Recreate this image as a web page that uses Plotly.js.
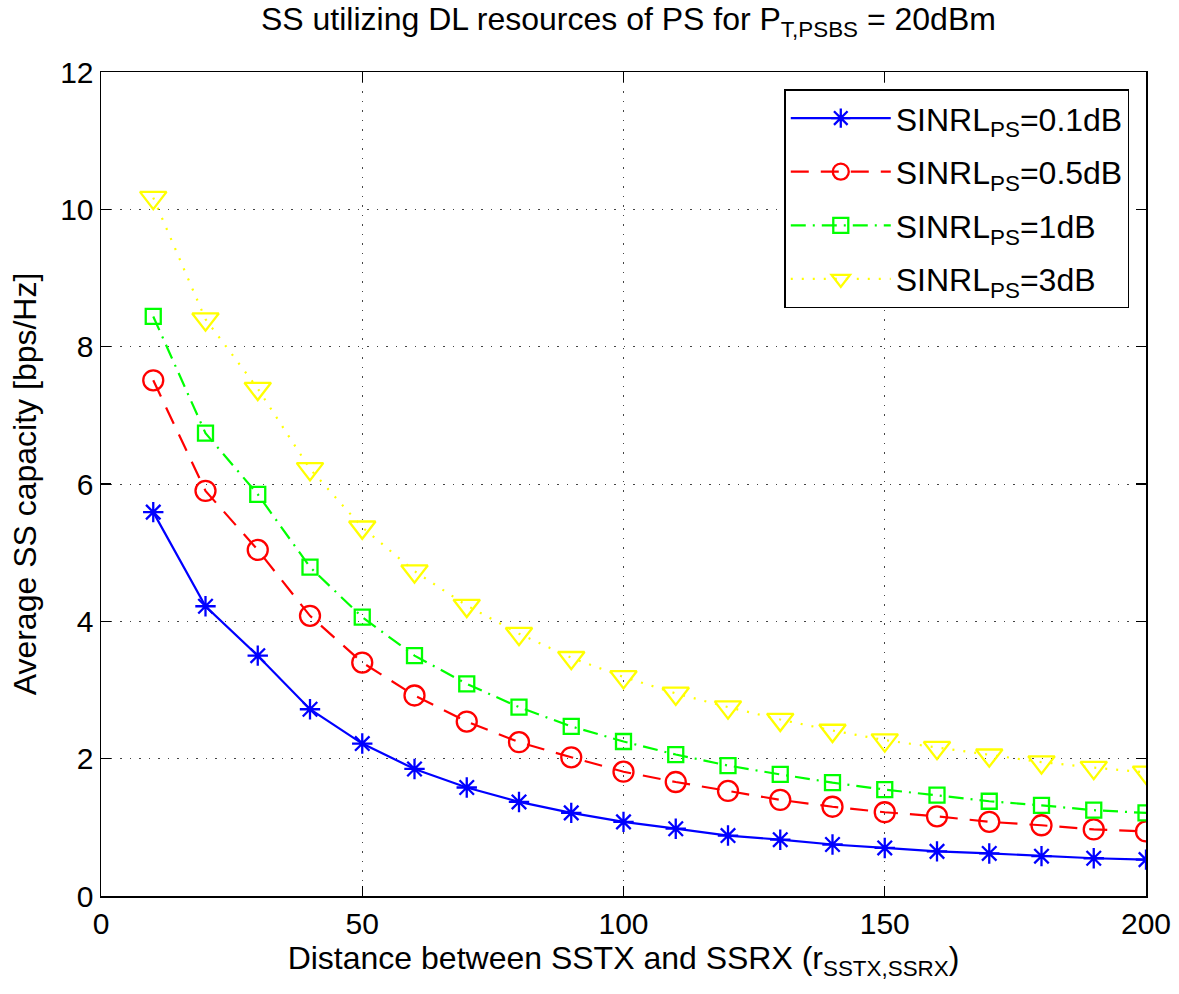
<!DOCTYPE html>
<html>
<head>
<meta charset="utf-8">
<script src="https://cdn.plot.ly/plotly-3.0.1.min.js"></script>
<style>html,body{margin:0;padding:0;background:#fff;}#chart{width:1179px;height:994px;}</style>
</head>
<body>
<div id="chart"></div>
<script>
const distance = [10,20,30,40,50,60,70,80,90,100,110,120,130,140,150,160,170,180,190,200];
const sinrl01 = [5.59,4.22,3.50,2.72,2.22,1.85,1.58,1.37,1.21,1.08,0.98,0.88,0.82,0.75,0.70,0.65,0.62,0.58,0.55,0.53];
const sinrl05 = [7.51,5.90,5.04,4.08,3.40,2.92,2.54,2.24,2.02,1.81,1.66,1.53,1.40,1.30,1.22,1.16,1.08,1.03,0.97,0.94];
const sinrl1  = [8.44,6.74,5.85,4.79,4.06,3.50,3.09,2.75,2.47,2.25,2.06,1.90,1.77,1.65,1.55,1.47,1.38,1.32,1.25,1.21];
const sinrl3  = [10.17,8.40,7.39,6.22,5.37,4.73,4.23,3.82,3.47,3.19,2.95,2.75,2.57,2.41,2.27,2.16,2.05,1.95,1.87,1.80];
const seriesNames = ['SINRL<sub>PS</sub>=0.1dB','SINRL<sub>PS</sub>=0.5dB','SINRL<sub>PS</sub>=1dB','SINRL<sub>PS</sub>=3dB'];
const xTicks = [0,50,100,150,200];
const yTicks = [0,2,4,6,8,10,12];

const font = 'Liberation Sans, Arial, sans-serif';
const traces = [
  {x: distance, y: sinrl01, name: seriesNames[0], legendgroup: 'g1', mode: 'lines+markers',
   line: {color: '#0000ff', width: 2.2, dash: 'solid'},
   marker: {symbol: 'asterisk-open', size: 17, color: '#0000ff', line: {color: '#0000ff', width: 2.3}}},
  {x: distance, y: sinrl05, name: seriesNames[1], legendgroup: 'g2', mode: 'lines+markers',
   line: {color: '#ff0000', width: 2.2, dash: '18px,12px'},
   marker: {symbol: 'circle-open', size: 20, color: '#ff0000', line: {color: '#ff0000', width: 2.3}}},
  {x: distance, y: sinrl1, name: seriesNames[2], legendgroup: 'g3', mode: 'lines+markers',
   line: {color: '#00ff00', width: 2.2, dash: '15px,7px,2px,7px'},
   marker: {symbol: 'square-open', size: 15, color: '#00ff00', line: {color: '#00ff00', width: 2.3}}},
  {x: distance, y: sinrl3, name: seriesNames[3], legendgroup: 'g4', mode: 'lines+markers',
   line: {color: '#ffff00', width: 2.2, dash: '2px,9px'},
   marker: {symbol: 'triangle-down-open', size: 23, color: '#ffff00', line: {color: '#ffff00', width: 2.3}}}
];

const axisCommon = {
  showline: true, linecolor: '#000', linewidth: 1.5, mirror: 'ticks',
  ticks: 'inside', ticklen: 10, tickwidth: 1.2, tickcolor: '#000',
  showgrid: true, gridcolor: '#444', gridwidth: 1, griddash: '1.5px,8px',
  zeroline: false, tickfont: {family: font, size: 30, color: '#000'}
};

const layout = {
  width: 1179, height: 994,
  margin: {l: 101, r: 33, t: 72, b: 98},
  paper_bgcolor: '#fff', plot_bgcolor: '#fff',
  title: {text: 'SS utilizing DL resources of PS for P<sub>T,PSBS</sub> = 20dBm',
          font: {family: font, size: 32, color: '#000'}, x: 0.533, xanchor: 'center', y: 0.992, yanchor: 'top'},
  xaxis: Object.assign({}, axisCommon, {range: [0, 200], tickvals: xTicks, ticktext: xTicks.map(String),
    title: {text: 'Distance between SSTX and SSRX (r<sub>SSTX,SSRX</sub>)', font: {family: font, size: 32, color: '#000'}, standoff: 8}}),
  yaxis: Object.assign({}, axisCommon, {range: [0, 12], tickvals: yTicks, ticktext: yTicks.map(String),
    title: {text: 'Average SS capacity [bps/Hz]', font: {family: font, size: 32, color: '#000'}, standoff: 14}}),
  legend: {x: 0.984, xanchor: 'right', y: 0.979, yanchor: 'top', bgcolor: '#fff',
    bordercolor: '#000', borderwidth: 1.5, font: {family: font, size: 32, color: '#000'},
    tracegroupgap: 9, itemwidth: 100},
  showlegend: true
};

Plotly.newPlot('chart', traces, layout, {displayModeBar: false, staticPlot: true});
</script>
</body>
</html>
